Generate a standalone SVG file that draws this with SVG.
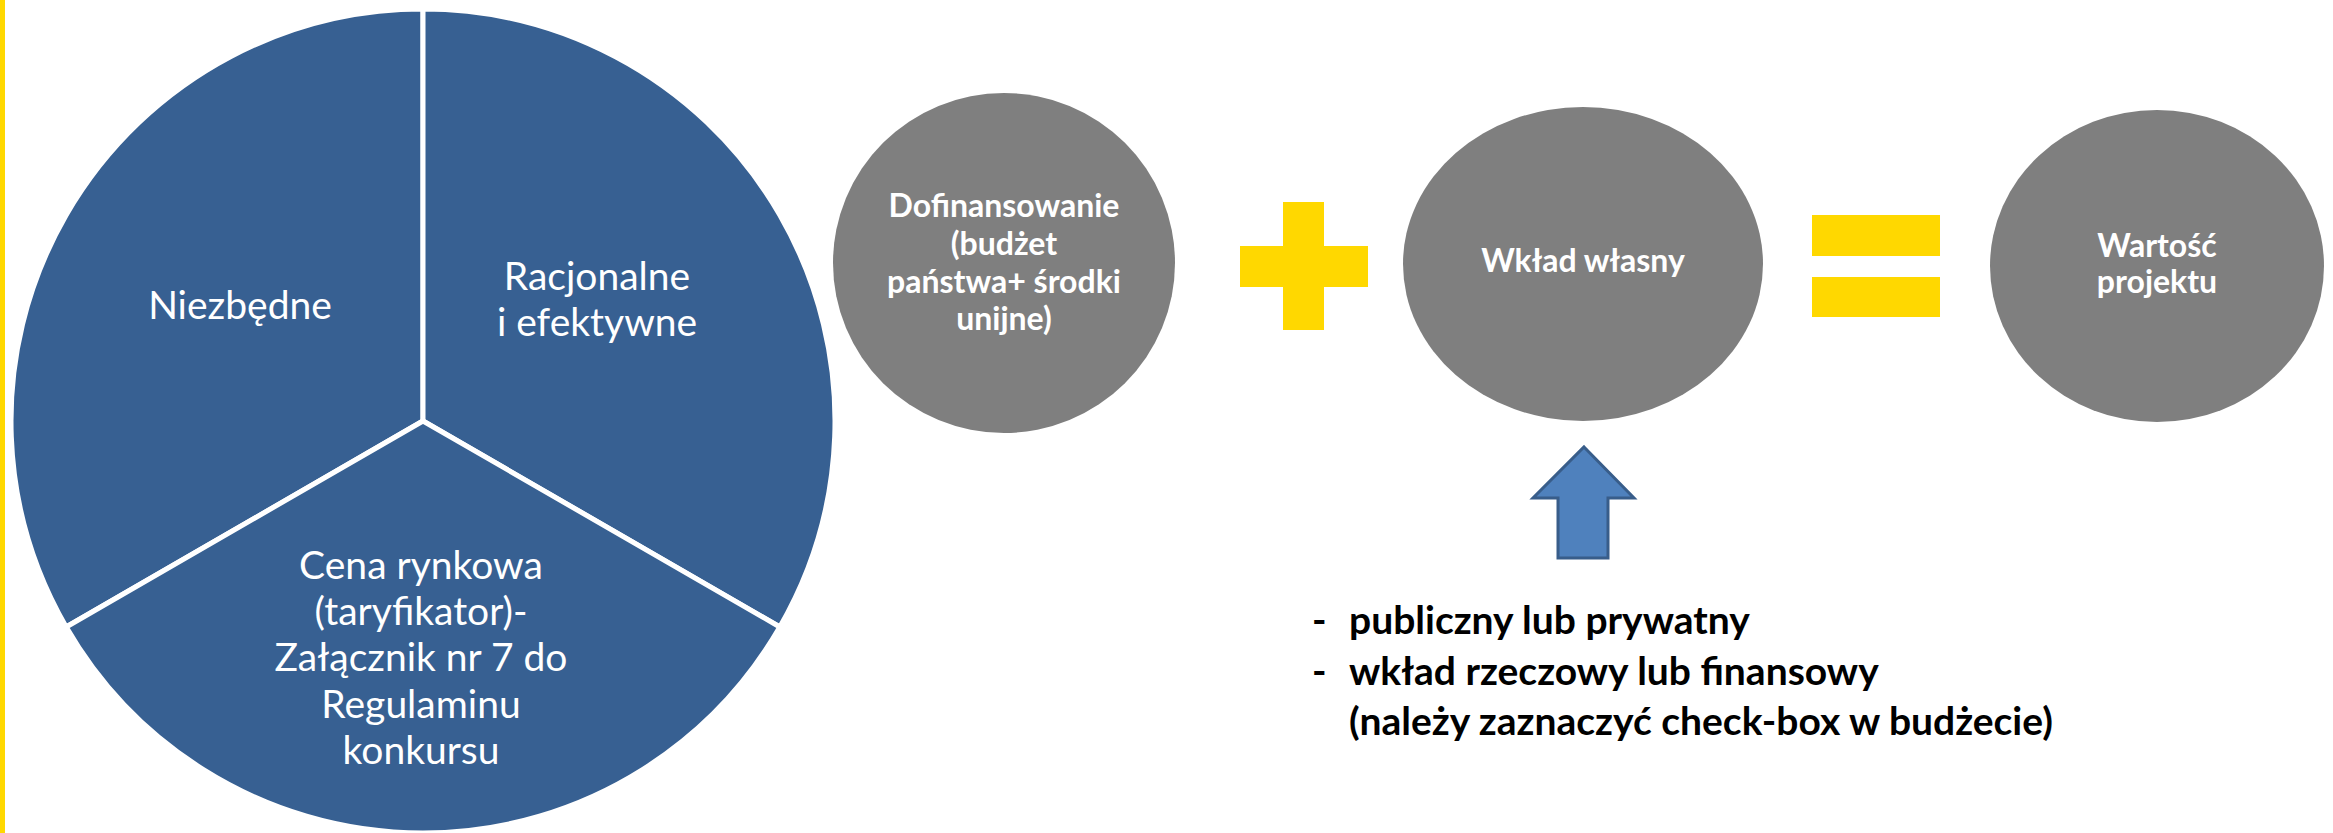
<svg xmlns="http://www.w3.org/2000/svg" width="2333" height="833" viewBox="0 0 2333 833">
<style>
.slice{fill:#376092;stroke:#ffffff;stroke-width:5;stroke-linejoin:miter}
.pt{font-family:Lato,"Liberation Sans",sans-serif;font-size:39px;fill:#ffffff;text-anchor:middle}
.circ{fill:#7f7f7f}
.ct{font-family:Lato,"Liberation Sans",sans-serif;font-weight:bold;font-size:32px;fill:#ffffff;text-anchor:middle}
.yel{fill:#ffd800}
.bt{font-family:Lato,"Liberation Sans",sans-serif;font-weight:bold;font-size:39px;fill:#000000}
</style>
<rect x="0" y="0" width="5" height="833" class="yel"/>
<g id="pie">
<g id="slice-niezbedne">
<path class="slice" d="M423,421 L423,9 A412,412 0 0 0 66.2,627 Z"/>
<text class="pt" x="240" y="319">Niezbędne</text>
</g>
<g id="slice-racjonalne">
<path class="slice" d="M423,421 L423,9 A412,412 0 0 1 779.8,627 Z"/>
<text class="pt" x="597" y="290">Racjonalne</text>
<text class="pt" x="597" y="336">i efektywne</text>
</g>
<g id="slice-cena">
<path class="slice" d="M423,421 L779.8,627 A412,412 0 0 1 66.2,627 Z"/>
<text class="pt" x="421" y="579">Cena rynkowa</text>
<text class="pt" x="421" y="625">(taryfikator)-</text>
<text class="pt" x="421" y="671">Załącznik nr 7 do</text>
<text class="pt" x="421" y="718">Regulaminu</text>
<text class="pt" x="421" y="764">konkursu</text>
</g>
</g>
<g id="dofinansowanie">
<ellipse class="circ" cx="1004" cy="263" rx="171" ry="170"/>
<text class="ct" x="1004" y="217">Dofinansowanie</text>
<text class="ct" x="1004" y="255">(budżet</text>
<text class="ct" x="1004" y="293">państwa+ środki</text>
<text class="ct" x="1004" y="330">unijne)</text>
</g>
<g id="plus">
<rect class="yel" x="1283" y="202" width="41" height="128"/>
<rect class="yel" x="1240" y="246" width="128" height="41"/>
</g>
<g id="wklad">
<ellipse class="circ" cx="1583" cy="264" rx="180" ry="157"/>
<text class="ct" x="1583" y="272">Wkład własny</text>
</g>
<g id="equals">
<rect class="yel" x="1812" y="215" width="128" height="41"/>
<rect class="yel" x="1812" y="277" width="128" height="40"/>
</g>
<g id="wartosc">
<ellipse class="circ" cx="2157" cy="266" rx="167" ry="156"/>
<text class="ct" x="2157" y="257">Wartość</text>
<text class="ct" x="2157" y="293">projektu</text>
</g>
<g id="connectors">
<path d="M1584,447 L1634,498 L1608,498 L1608,558 L1558,558 L1558,498 L1533,498 Z" fill="#4f81bd" stroke="#385d8a" stroke-width="3" stroke-linejoin="miter"/>
</g>
<g id="notes">
<text class="bt" x="1312" y="634">-</text>
<text class="bt" x="1349" y="634">publiczny lub prywatny</text>
<text class="bt" x="1312" y="685">-</text>
<text class="bt" x="1349" y="685">wkład rzeczowy lub finansowy</text>
<text class="bt" x="1349" y="735">(należy zaznaczyć check-box w budżecie)</text>
</g>
</svg>
